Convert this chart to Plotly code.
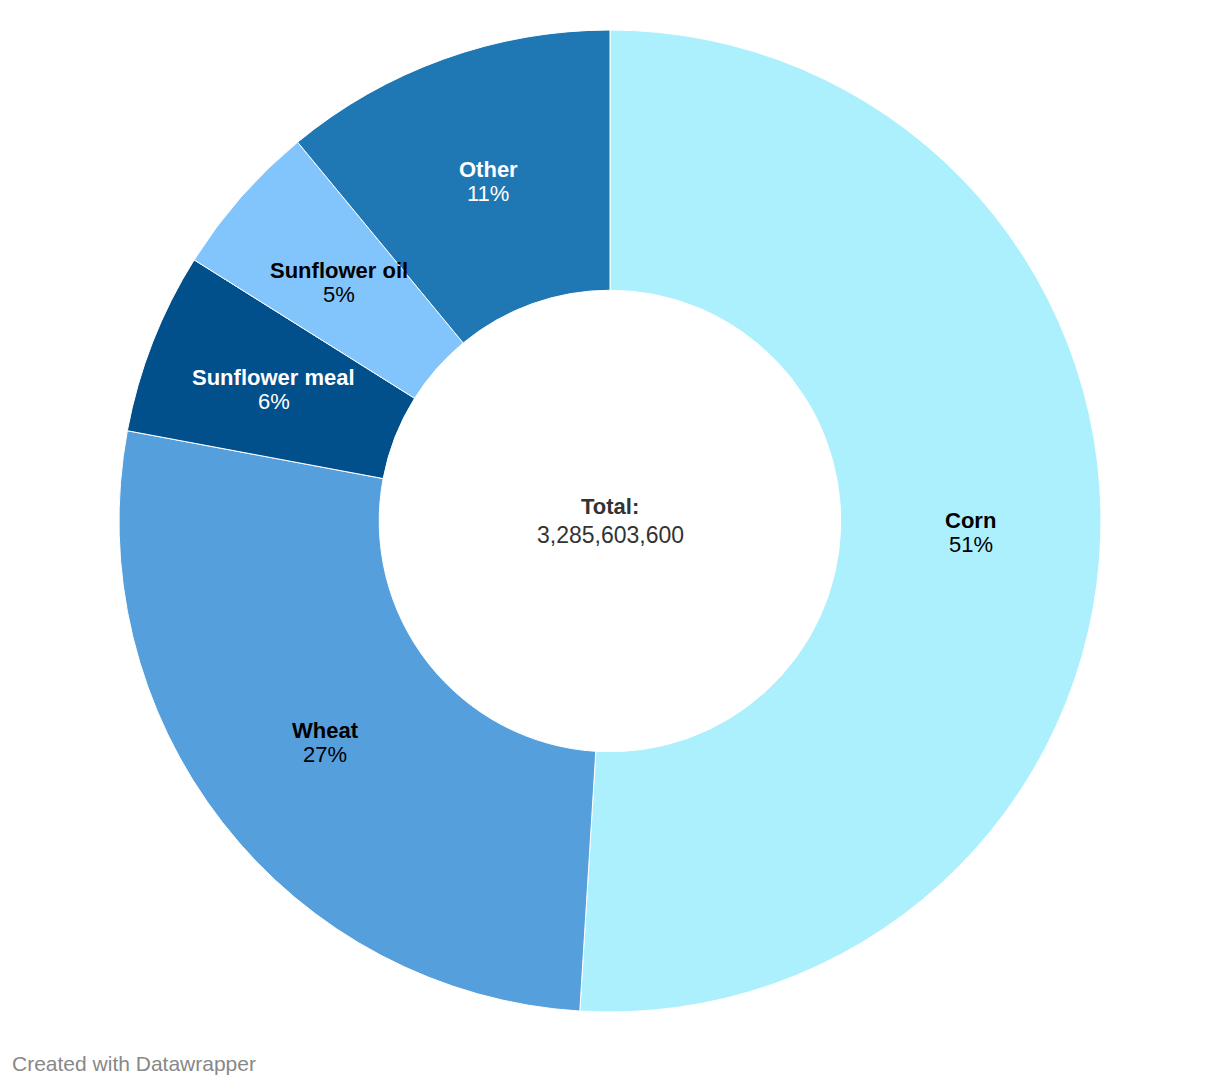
import math
import plotly.graph_objects as go

categories = ["Corn", "Wheat", "Sunflower meal", "Sunflower oil", "Other"]
values = [1675000000, 885900000, 196500000, 167600000, 360603600]
colors = ["#adf0fd", "#559fdc", "#02508b", "#82c5fd", "#1f77b4"]
text_colors = ["#000000", "#000000", "#ffffff", "#000000", "#ffffff"]
total_label = "3,285,603,600"

FONT = "Liberation Sans, Arial, Helvetica, sans-serif"
# page body has an 8px margin; figure sized so it fits the window
W, H = 1212, 1078
cx, cy, R = 602, 513, 491
HOLE = 0.47
r_lab = R * (1 + HOLE) / 2

fig = go.Figure(go.Pie(
    labels=categories,
    values=values,
    sort=False,
    direction="clockwise",
    rotation=0,
    hole=HOLE,
    marker=dict(colors=colors, line=dict(color="#ffffff", width=1)),
    textinfo="none",
    hoverinfo="label+value+percent",
    domain=dict(x=[(cx - R) / W, (cx + R) / W], y=[1 - (cy + R) / H, 1 - (cy - R) / H]),
    showlegend=False,
))

total = sum(values)
cum = 0.0
for lab, v, tc in zip(categories, values, text_colors):
    frac = v / total
    mid = (cum + frac / 2) * 2 * math.pi
    cum += frac
    px = cx + r_lab * math.sin(mid)
    py = cy - r_lab * math.cos(mid)
    xp, yp = px / W, 1 - py / H
    fig.add_annotation(x=xp, y=yp, xref="paper", yref="paper", showarrow=False,
                       xanchor="center", yanchor="middle",
                       text="<b>" + lab + "</b>", yshift=12,
                       font=dict(family=FONT, size=22, color=tc))
    fig.add_annotation(x=xp, y=yp, xref="paper", yref="paper", showarrow=False,
                       xanchor="center", yanchor="middle",
                       text=f"{round(frac * 100)}%", yshift=-12,
                       font=dict(family=FONT, size=22, color=tc))

fig.add_annotation(x=cx / W, y=1 - cy / H, xref="paper", yref="paper", showarrow=False,
                   xanchor="center", yanchor="middle",
                   text="<b>Total:</b>", yshift=15,
                   font=dict(family=FONT, size=22, color="#333333"))
fig.add_annotation(x=cx / W, y=1 - cy / H, xref="paper", yref="paper", showarrow=False,
                   xanchor="center", yanchor="middle",
                   text=total_label, yshift=-14,
                   font=dict(family=FONT, size=23, color="#333333"))

fig.add_annotation(
    x=2 / W, y=1 - 1055 / H, xref="paper", yref="paper",
    xanchor="left", yanchor="middle",
    text="Created with Datawrapper",
    showarrow=False,
    font=dict(family=FONT, size=21, color="#888888"),
)

fig.update_layout(
    width=W, height=H,
    margin=dict(l=0, r=0, t=0, b=0),
    paper_bgcolor="#ffffff",
    plot_bgcolor="#ffffff",
)

fig.write_html("out.html")
